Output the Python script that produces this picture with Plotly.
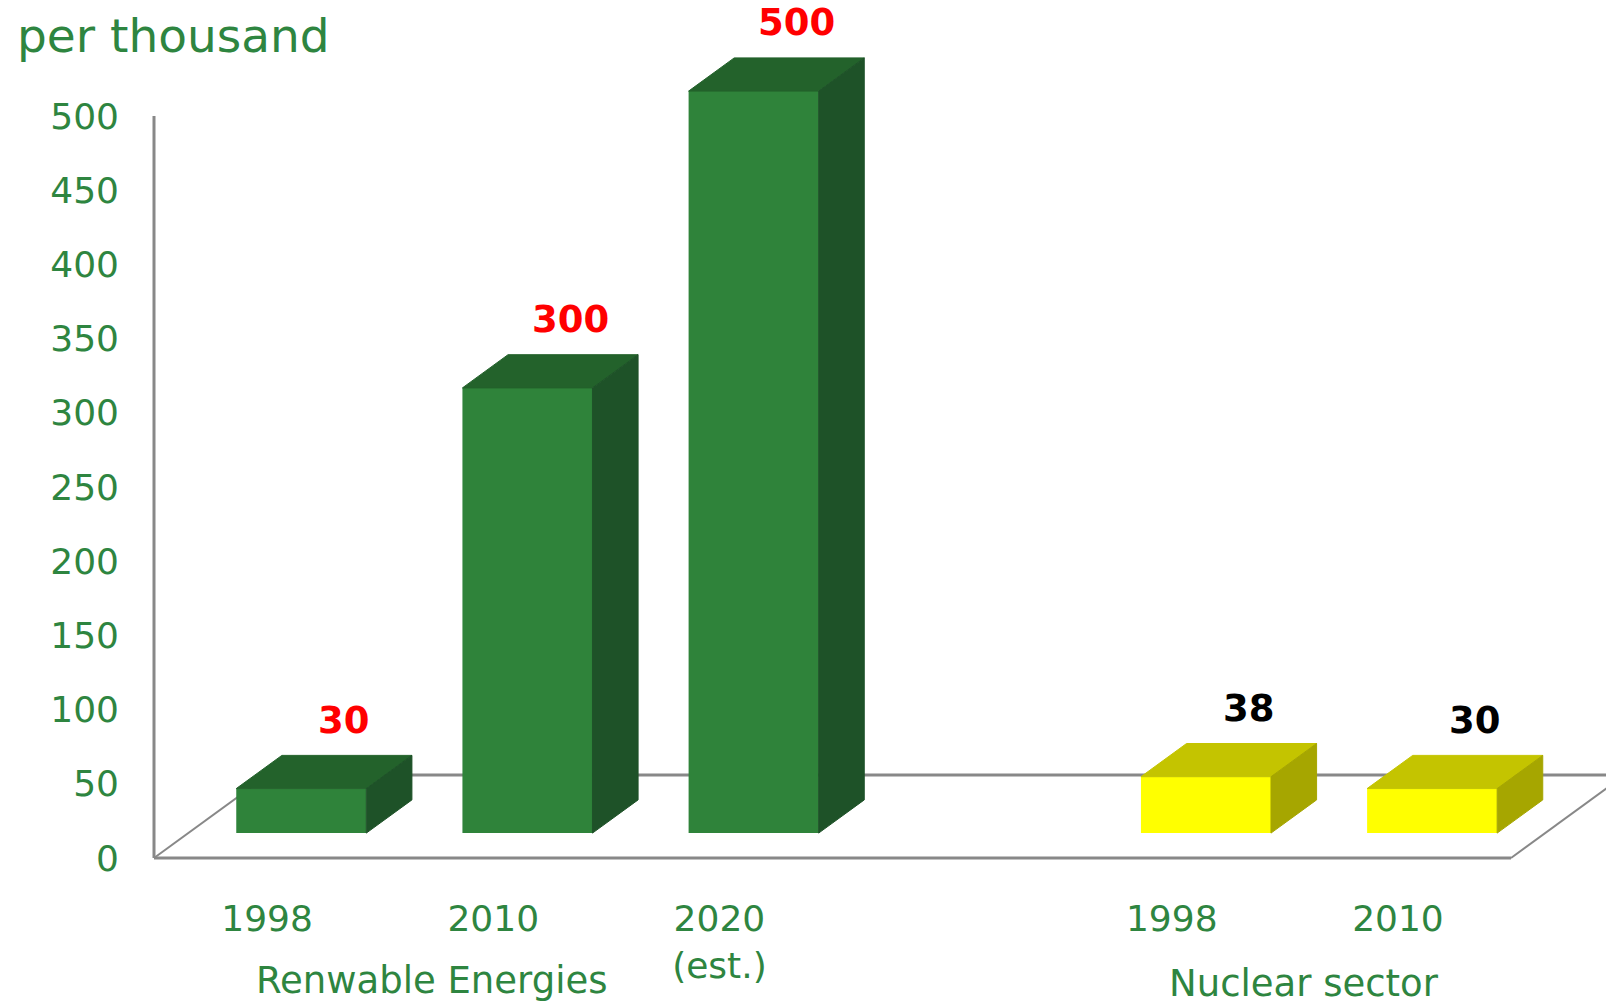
import plotly.graph_objects as go

# ---------------- data ----------------
renew_years = ["1998", "2010", "2020<br>(est.)"]
renew_values = [30, 300, 500]
nuclear_years = ["1998", "2010"]
nuclear_values = [38, 30]
group_labels = ["Renwable Energies", "Nuclear sector"]
y_tick_values = [0, 50, 100, 150, 200, 250, 300, 350, 400, 450, 500]
unit_label = "per thousand"

# ---------------- styling / geometry ----------------
GREEN_TXT = "#2E8540"
AXIS_GREY = "#888888"
renew_cols = dict(front="#2F833A", top="#23622B", side="#1E5228")
nuc_cols = dict(front="#FFFF00", top="#C4C400", side="#A6A600")
FONT = "DejaVu Sans, Verdana, sans-serif"

W, H = 1606, 1004
ML, MR, MT, MB = 134, 0, 0, 134
PW, PH = W - ML - MR, H - MT - MB
PX_X = 226.17           # px per category slot
PX_Y = 1.484            # px per value unit
x_lo = -0.5 - 20 / PX_X
x_hi = x_lo + PW / PX_X
y_lo = -12 / PX_Y
y_hi = y_lo + PH / PX_Y


def paper_x(page_x):
    return (page_x - ML) / PW


def paper_y(page_y):
    return (MT + PH - page_y) / PH


DX, DY = 114 / PX_X, 83 / PX_Y     # full floor depth (data units)
F_FRONT, F_BACK = 0.3, 0.7          # bar front / back depth fractions
BAR_W = 0.575

renew_x = list(range(len(renew_values)))
nuclear_x = [len(renew_values) + 1 + i for i in range(len(nuclear_values))]
n_slots = len(renew_values) + 1 + len(nuclear_values)

fig = go.Figure()


def add_series(xs, vals, cols, label_color):
    base = F_FRONT * DY
    cx = [x + F_FRONT * DX for x in xs]
    fig.add_trace(go.Bar(
        x=cx, y=vals, base=[base] * len(vals), width=BAR_W,
        marker=dict(color=cols["front"], line=dict(width=0)),
        showlegend=False, hoverinfo="y"))
    ddx = (F_BACK - F_FRONT) * DX
    ddy = (F_BACK - F_FRONT) * DY
    for c, v in zip(cx, vals):
        x0, x1 = c - BAR_W / 2, c + BAR_W / 2
        t = base + v
        fig.add_trace(go.Scatter(
            x=[x0, x1, x1 + ddx, x0 + ddx, x0],
            y=[t, t, t + ddy, t + ddy, t],
            mode="lines", fill="toself", fillcolor=cols["top"],
            line=dict(color=cols["top"], width=1),
            showlegend=False, hoverinfo="skip"))
        fig.add_trace(go.Scatter(
            x=[x1, x1, x1 + ddx, x1 + ddx, x1],
            y=[base, t, t + ddy, base + ddy, base],
            mode="lines", fill="toself", fillcolor=cols["side"],
            line=dict(color=cols["side"], width=1),
            showlegend=False, hoverinfo="skip"))
        fig.add_annotation(
            x=c + 0.19, y=t + ddy, xref="x", yref="y",
            text="<b>%d</b>" % v, showarrow=False, yanchor="middle",
            xanchor="center", yshift=35,
            font=dict(family=FONT, size=37, color=label_color))


add_series(renew_x, renew_values, renew_cols, "#FF0000")
add_series(nuclear_x, nuclear_values, nuc_cols, "#000000")

# floor / axis lines (below traces)
left, right = -0.5, n_slots - 0.5
lines = [
    (left, 0, right, 0, 3),
    (left, 0, left + DX, DY, 2),
    (left + DX, DY, right + DX, DY, 3),
    (right, 0, right + DX, DY, 2),
    (left, 0, left, y_tick_values[-1], 3),
]
for x0, y0, x1, y1, w in lines:
    fig.add_shape(type="line", xref="x", yref="y", x0=x0, y0=y0, x1=x1, y1=y1,
                  line=dict(color=AXIS_GREY, width=w), layer="below")

# group labels
fig.add_annotation(x=paper_x(431), y=paper_y(981), xref="paper", yref="paper",
                   text=group_labels[0], showarrow=False,
                   xanchor="center", yanchor="middle",
                   font=dict(family=FONT, size=37, color=GREEN_TXT))
fig.add_annotation(x=paper_x(1304), y=paper_y(983), xref="paper", yref="paper",
                   text=group_labels[1], showarrow=False,
                   xanchor="center", yanchor="middle",
                   font=dict(family=FONT, size=37, color=GREEN_TXT))
fig.add_annotation(x=paper_x(15), y=paper_y(36),
                   xref="paper", yref="paper", text=unit_label, showarrow=False,
                   xanchor="left", yanchor="middle",
                   font=dict(family=FONT, size=47, color=GREEN_TXT))

fig.update_layout(
    width=W, height=H,
    margin=dict(l=ML, r=MR, t=MT, b=MB, pad=0),
    plot_bgcolor="white", paper_bgcolor="white",
    barmode="overlay",
    xaxis=dict(range=[x_lo, x_hi], tickvals=renew_x + nuclear_x,
               ticktext=renew_years + nuclear_years, showgrid=False,
               zeroline=False, showline=False, ticks="",
               ticklabelstandoff=24,
               tickfont=dict(family=FONT, size=36, color=GREEN_TXT)),
    yaxis=dict(range=[y_lo, y_hi], tickvals=y_tick_values, showgrid=False,
               zeroline=False, showline=False, ticks="",
               ticklabelstandoff=14,
               tickfont=dict(family=FONT, size=36, color=GREEN_TXT)),
)

fig.write_html("out.html",
               config={"displayModeBar": False},
               post_script="document.body.style.margin='0';"
                           "document.body.style.overflow='hidden';")
